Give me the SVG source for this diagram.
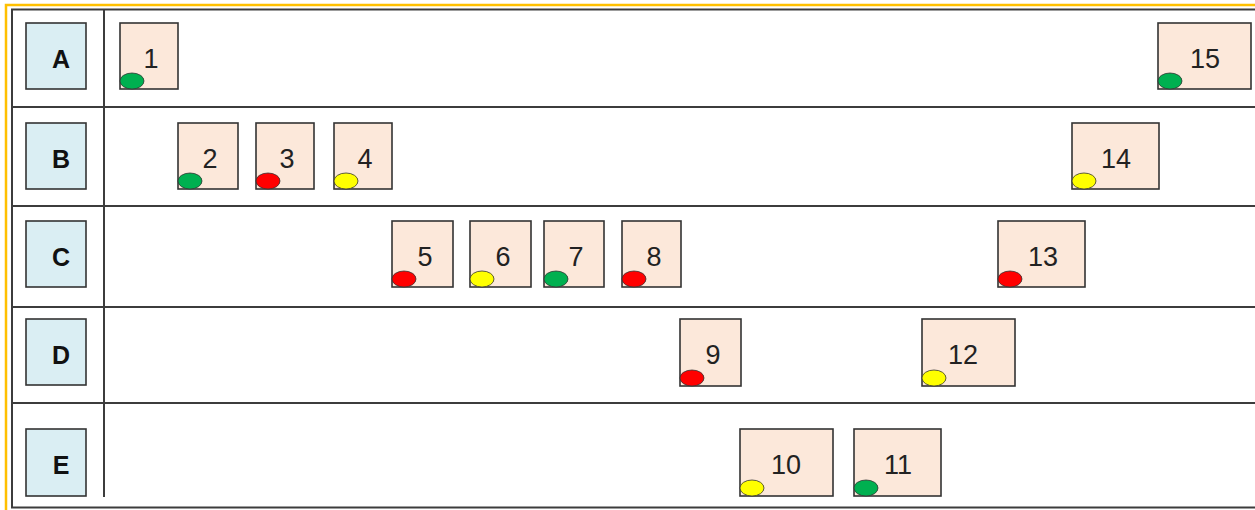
<svg xmlns="http://www.w3.org/2000/svg" width="1255" height="510" viewBox="0 0 1255 510">
<style>
.grid{stroke:#3c3c3c;stroke-width:2;fill:none}
.lbl rect{fill:#DAEEF3;stroke:#333;stroke-width:1.6}
.lbl text{font-family:"Liberation Sans",Arial,sans-serif;font-weight:bold;font-size:25px;fill:#111;text-anchor:middle}
.node rect{fill:#FCE8DA;stroke:#333;stroke-width:1.6}
.node text{font-family:"Liberation Sans",Arial,sans-serif;font-size:27px;fill:#222;text-anchor:middle}
.node ellipse{stroke:#333;stroke-width:0.8}
.g{fill:#00B050}.r{fill:#FF0000}.y{fill:#FFFF00}
</style>
<rect width="1255" height="510" fill="#fff"/>
<polyline points="6,510 6,5 1255,5" fill="none" stroke="#FFC000" stroke-width="2.5"/>
<g id="grid" class="grid">
<polyline points="1255,9.5 12,9.5 12,507.5 1255,507.5"/>
<line x1="104" y1="9.5" x2="104" y2="497"/>
<line x1="12" y1="107" x2="1255" y2="107"/>
<line x1="12" y1="206" x2="1255" y2="206"/>
<line x1="12" y1="307" x2="1255" y2="307"/>
<line x1="12" y1="403" x2="1255" y2="403"/>
</g>
<g id="label-A" class="lbl"><rect x="26" y="23" width="60" height="66"/><text x="61" y="68">A</text></g>
<g id="label-B" class="lbl"><rect x="26" y="123" width="60" height="66"/><text x="61" y="168">B</text></g>
<g id="label-C" class="lbl"><rect x="26" y="221" width="60" height="66"/><text x="61" y="266">C</text></g>
<g id="label-D" class="lbl"><rect x="26" y="319" width="60" height="66"/><text x="61" y="364">D</text></g>
<g id="label-E" class="lbl"><rect x="26" y="429" width="60" height="67"/><text x="61" y="474">E</text></g>
<g id="node-1" class="node"><rect x="120" y="23" width="58" height="66"/><text x="151" y="68">1</text><ellipse class="g" cx="132" cy="81" rx="12" ry="8"/></g>
<g id="node-2" class="node"><rect x="178" y="123" width="60" height="66"/><text x="210" y="168">2</text><ellipse class="g" cx="190" cy="181" rx="12" ry="8"/></g>
<g id="node-3" class="node"><rect x="256" y="123" width="58" height="66"/><text x="287" y="168">3</text><ellipse class="r" cx="268" cy="181" rx="12" ry="8"/></g>
<g id="node-4" class="node"><rect x="334" y="123" width="58" height="66"/><text x="365" y="168">4</text><ellipse class="y" cx="346" cy="181" rx="12" ry="8"/></g>
<g id="node-5" class="node"><rect x="392" y="221" width="61" height="66"/><text x="425" y="266">5</text><ellipse class="r" cx="404" cy="279" rx="12" ry="8"/></g>
<g id="node-6" class="node"><rect x="470" y="221" width="61" height="66"/><text x="503" y="266">6</text><ellipse class="y" cx="482" cy="279" rx="12" ry="8"/></g>
<g id="node-7" class="node"><rect x="544" y="221" width="60" height="66"/><text x="576" y="266">7</text><ellipse class="g" cx="556" cy="279" rx="12" ry="8"/></g>
<g id="node-8" class="node"><rect x="622" y="221" width="59" height="66"/><text x="654" y="266">8</text><ellipse class="r" cx="634" cy="279" rx="12" ry="8"/></g>
<g id="node-9" class="node"><rect x="680" y="319" width="61" height="67"/><text x="713" y="364">9</text><ellipse class="r" cx="692" cy="378" rx="12" ry="8"/></g>
<g id="node-10" class="node"><rect x="740" y="429" width="93" height="67"/><text x="786" y="474">10</text><ellipse class="y" cx="752" cy="488" rx="12" ry="8"/></g>
<g id="node-11" class="node"><rect x="854" y="429" width="87" height="67"/><text x="898" y="474">11</text><ellipse class="g" cx="866" cy="488" rx="12" ry="8"/></g>
<g id="node-12" class="node"><rect x="922" y="319" width="93" height="67"/><text x="963" y="364">12</text><ellipse class="y" cx="934" cy="378" rx="12" ry="8"/></g>
<g id="node-13" class="node"><rect x="998" y="221" width="87" height="66"/><text x="1043" y="266">13</text><ellipse class="r" cx="1010" cy="279" rx="12" ry="8"/></g>
<g id="node-14" class="node"><rect x="1072" y="123" width="87" height="66"/><text x="1116" y="168">14</text><ellipse class="y" cx="1084" cy="181" rx="12" ry="8"/></g>
<g id="node-15" class="node"><rect x="1158" y="23" width="93" height="66"/><text x="1205" y="68">15</text><ellipse class="g" cx="1170" cy="81" rx="12" ry="8"/></g>
</svg>
